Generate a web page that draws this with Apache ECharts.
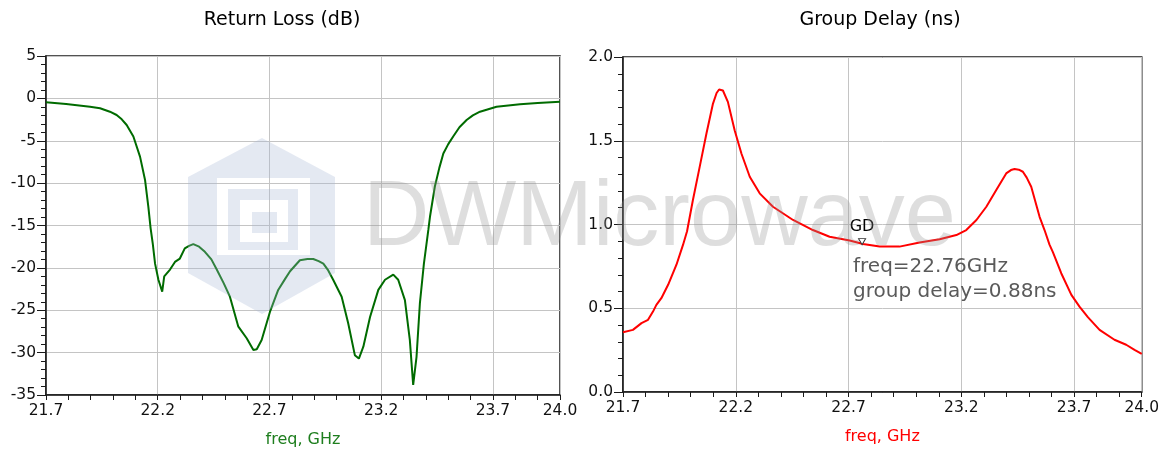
<!DOCTYPE html>
<html>
<head>
<meta charset="utf-8">
<script src="https://cdn.jsdelivr.net/npm/echarts@6/dist/echarts.min.js"></script>
<style>html,body{margin:0;padding:0;background:#fff;}#c{width:1162px;height:455px;}</style>
</head>
<body>
<div id="c"></div>
<script>
// ---- data ----
const F0 = 21.7; // start frequency of both x axes (GHz)
const xTickLabels = ['21.7', '22.2', '22.7', '23.2', '23.7', '24.0'];
const rlTickLabels = ['5', '0', '-5', '-10', '-15', '-20', '-25', '-30', '-35'];
const gdTickLabels = ['2.0', '1.5', '1.0', '0.5', '0.0'];

const rlFreq = [21.700, 21.790, 21.897, 21.942, 21.986, 22.016, 22.039, 22.061, 22.091, 22.121,
  22.143, 22.158, 22.168, 22.178, 22.188, 22.203, 22.220, 22.229, 22.255, 22.277,
  22.299, 22.321, 22.340, 22.359, 22.385, 22.411, 22.440, 22.464, 22.495, 22.523,
  22.560, 22.598, 22.628, 22.643, 22.665, 22.702, 22.739, 22.770, 22.792, 22.836,
  22.870, 22.896, 22.920, 22.941, 22.963, 22.985, 23.023, 23.052, 23.082, 23.100,
  23.120, 23.150, 23.187, 23.217, 23.254, 23.276, 23.306, 23.328, 23.343, 23.358,
  23.373, 23.391, 23.411, 23.418, 23.440, 23.460, 23.478, 23.500, 23.522, 23.550,
  23.582, 23.610, 23.642, 23.716, 23.821, 23.900, 24.000];
const rlVal = [-0.46, -0.66, -0.98, -1.17, -1.57, -1.96, -2.47, -3.14, -4.5, -6.9,
  -9.6, -12.8, -15.3, -17.2, -19.5, -21.4, -22.8, -21.0, -20.2, -19.3,
  -18.9, -17.7, -17.4, -17.2, -17.5, -18.1, -19.0, -20.2, -21.8, -23.4,
  -26.9, -28.3, -29.7, -29.6, -28.5, -25.2, -22.6, -21.3, -20.4, -19.1,
  -18.95, -18.95, -19.2, -19.5, -20.3, -21.4, -23.4, -26.5, -30.3, -30.7,
  -29.3, -25.8, -22.6, -21.4, -20.8, -21.4, -23.8, -28.5, -33.8, -30.5,
  -24.2, -19.5, -15.5, -14.0, -10.4, -8.2, -6.5, -5.4, -4.5, -3.4,
  -2.55, -2.0, -1.57, -0.98, -0.70, -0.55, -0.39];

const gdFreq = [21.700, 21.744, 21.782, 21.811, 21.833, 21.848, 21.870, 21.900, 21.937, 21.966,
  21.984, 22.010, 22.040, 22.070, 22.099, 22.115, 22.126, 22.143, 22.165, 22.195,
  22.225, 22.262, 22.306, 22.365, 22.454, 22.542, 22.616, 22.705, 22.764, 22.838,
  22.926, 23.015, 23.104, 23.178, 23.222, 23.267, 23.311, 23.355, 23.399, 23.420,
  23.436, 23.455, 23.473, 23.490, 23.510, 23.547, 23.569, 23.591, 23.606, 23.643,
  23.688, 23.724, 23.761, 23.813, 23.879, 23.931, 23.968, 24.000];
const gdVal = [0.357, 0.371, 0.411, 0.431, 0.48, 0.52, 0.56, 0.64, 0.76, 0.878,
  0.96, 1.146, 1.344, 1.543, 1.722, 1.785, 1.806, 1.80, 1.732, 1.563,
  1.424, 1.285, 1.186, 1.106, 1.027, 0.967, 0.927, 0.904, 0.884, 0.868,
  0.868, 0.892, 0.912, 0.937, 0.967, 1.027, 1.106, 1.206, 1.305, 1.325,
  1.331, 1.327, 1.315, 1.28, 1.225, 1.046, 0.967, 0.88, 0.835, 0.709,
  0.58, 0.51, 0.447, 0.371, 0.312, 0.282, 0.252, 0.228];

const markerFreq = 22.76;
const markerVal = 0.88;
const markerLines = ['freq=22.76GHz', 'group delay=0.88ns'];

// ---- chart ----
const chart = echarts.init(document.getElementById('c'), null, {renderer: 'canvas'});
const TICK_FONT = 'DejaVu Sans';
const gridLine = {show: true, lineStyle: {color: '#c4c4c4', width: 1}};
const axLine = {show: true, onZero: false, lineStyle: {color: '#1a1a1a', width: 1.5}};

function majorX(gridIndex, nameColor) {
  return {
    gridIndex, type: 'value', min: 0, max: 2.3, interval: 0.5, position: 'bottom',
    axisLine: axLine,
    axisTick: {show: true, length: 5, lineStyle: {color: '#1a1a1a', width: 1}},
    axisLabel: {margin: 8, color: '#111', fontFamily: TICK_FONT, fontSize: 15.5,
      showMinLabel: true, showMaxLabel: true,
      formatter: v => { const i = xTickLabels.indexOf((v + F0).toFixed(1)); return i >= 0 ? xTickLabels[i] : ''; }},
    splitLine: gridLine,
    name: 'freq, GHz', nameLocation: 'middle', nameGap: 37,
    nameTextStyle: {color: nameColor, fontFamily: 'DejaVu Sans', fontSize: 16}
  };
}
function minorX(gridIndex) {
  return {
    gridIndex, type: 'value', min: 0, max: 2.3, interval: 0.1, position: 'bottom',
    axisLine: {show: false, onZero: false},
    axisTick: {show: true, length: 5, lineStyle: {color: '#1a1a1a', width: 1}},
    axisLabel: {show: false}, splitLine: {show: false}
  };
}

const WM_FILL = 'rgba(165,182,212,0.3)';

const option = {
  animation: false,
  backgroundColor: '#ffffff',
  grid: [
    {left: 46, top: 56, width: 514, height: 339, show: true, borderColor: '#1a1a1a', borderWidth: 1.5, backgroundColor: 'transparent'},
    {left: 623, top: 57, width: 519, height: 335, show: true, borderColor: '#1a1a1a', borderWidth: 1.5, backgroundColor: 'transparent'}
  ],
  xAxis: [majorX(0, '#1e7e1e'), minorX(0), majorX(1, '#ff0000'), minorX(1)],
  yAxis: [
    {gridIndex: 0, type: 'value', min: -35, max: 5, interval: 5,
      axisLine: axLine,
      axisTick: {show: true, length: 9, lineStyle: {color: '#1a1a1a'}},
      minorTick: {show: true, splitNumber: 5, length: 5, lineStyle: {color: '#1a1a1a'}},
      axisLabel: {margin: 10, color: '#111', fontFamily: TICK_FONT, fontSize: 15.5,
        formatter: v => rlTickLabels.find(t => Number(t) === v) || String(v)},
      splitLine: gridLine},
    {gridIndex: 1, type: 'value', min: 0, max: 2, interval: 0.5,
      axisLine: axLine,
      axisTick: {show: true, length: 9, lineStyle: {color: '#1a1a1a'}},
      minorTick: {show: true, splitNumber: 5, length: 5, lineStyle: {color: '#1a1a1a'}},
      axisLabel: {margin: 10, color: '#111', fontFamily: TICK_FONT, fontSize: 15.5,
        formatter: v => gdTickLabels.find(t => Number(t) === v) || v.toFixed(1)},
      splitLine: gridLine}
  ],
  series: [
    {type: 'line', xAxisIndex: 0, yAxisIndex: 0, showSymbol: false, silent: true,
      data: rlFreq.map((f, i) => [f - F0, rlVal[i]]),
      lineStyle: {color: '#006b00', width: 2}, z: 3},
    {type: 'line', xAxisIndex: 2, yAxisIndex: 1, showSymbol: false, silent: true,
      data: gdFreq.map((f, i) => [f - F0, gdVal[i]]),
      lineStyle: {color: '#ff0000', width: 2}, z: 3,
      markPoint: {
        silent: true,
        data: [{coord: [markerFreq - F0, markerVal], symbol: 'triangle', symbolRotate: 180,
          symbolSize: [7, 6], symbolOffset: [0, -3],
          itemStyle: {color: '#ffffff', borderColor: '#333', borderWidth: 1},
          label: {show: true, position: 'top', distance: 3, formatter: 'GD', color: '#000',
            fontFamily: 'DejaVu Sans', fontSize: 16}}]
      }}
  ],
  graphic: [
    {type: 'text', z: 50, style: {text: 'Return Loss (dB)', x: 282, y: 20, textAlign: 'center', textVerticalAlign: 'middle',
      font: '19px "DejaVu Sans"', fill: '#000'}},
    {type: 'text', z: 50, style: {text: 'Group Delay (ns)', x: 880, y: 20, textAlign: 'center', textVerticalAlign: 'middle',
      font: '19px "DejaVu Sans"', fill: '#000'}},
    {type: 'text', z: 50, style: {text: markerLines[0], x: 853, y: 267, textAlign: 'left', textVerticalAlign: 'middle',
      font: '20px "DejaVu Sans"', fill: '#5a5a5a'}},
    {type: 'text', z: 50, style: {text: markerLines[1], x: 853, y: 292, textAlign: 'left', textVerticalAlign: 'middle',
      font: '20px "DejaVu Sans"', fill: '#5a5a5a'}},
    // watermark logo (hexagon with square rings cut out)
    {type: 'polygon', z: 100, silent: true,
      shape: {points: [[188,177],[262,138],[335,177],[335,273],[262,314],[188,273],[188,177],
        [217,178],[217,255],[310,255],[310,178],[217,178]]},
      style: {fill: WM_FILL}},
    {type: 'polygon', z: 100, silent: true,
      shape: {points: [[228,189],[298,189],[298,250],[228,250],[228,189],
        [240,200],[240,242],[288,242],[288,200],[240,200]]},
      style: {fill: WM_FILL}},
    {type: 'rect', z: 100, silent: true, shape: {x: 252, y: 212, width: 25, height: 21},
      style: {fill: WM_FILL}},
    {type: 'text', z: 100, silent: true, style: {text: 'DWMicrowave', x: 363, y: 220, textAlign: 'left', textVerticalAlign: 'middle',
      font: '92px "Liberation Sans"', fill: 'rgba(146,146,146,0.3)'}}
  ]
};
chart.setOption(option);
</script>
</body>
</html>
